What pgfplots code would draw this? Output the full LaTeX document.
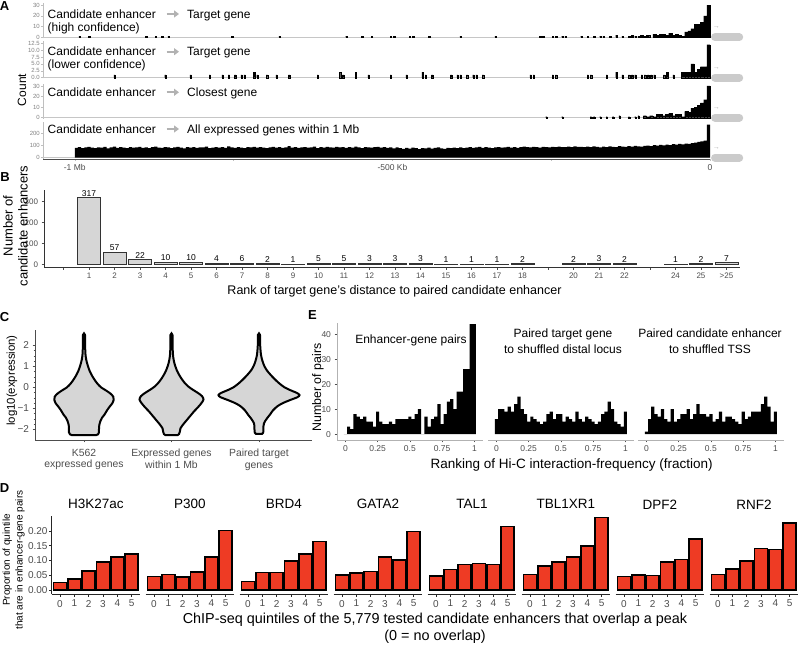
\documentclass[border=0pt]{standalone}
\usepackage{fontspec}
\setmainfont{Liberation Sans}
\usepackage{pgfplots}
\pgfplotsset{compat=1.18}
\usetikzlibrary{arrows.meta}
\definecolor{tk}{HTML}{4D4D4D}
\definecolor{lg}{HTML}{D6D6D6}
\definecolor{pill}{HTML}{CBCBCB}
\definecolor{ared}{HTML}{EE3B24}
\newcommand{\fs}[1]{\fontsize{#1}{#1}\selectfont}
\newcommand{\fss}[2]{\fontsize{#1}{#2}\selectfont}
\pgfplotsset{
  base/.style={scale only axis, anchor=south west, clip=false,
    /pgf/number format/assume math mode=true,
    tick align=outside, major tick length=2.5pt, minor tick length=1.5pt,
    tick style={tk, line width=0.5pt},
    axis line style={tk, line width=0.6pt},
    tick label style={text=tk}},
  Ast/.style={base, width=667pt, xmin=-1050, xmax=0,
    axis y line*=left,
    y axis line style={gray!50, line width=0.6pt},
    tick style={gray!50, line width=0.5pt},
    major tick length=2pt,
    yticklabel style={font=\fs{6}, text=gray, inner sep=1pt}},
  sparse/.style={ybar, bar width=2.2, bar shift=0pt, fill=black, draw=black, line width=0.15pt},
  dense/.style={ybar, bar width=5, bar shift=0pt, fill=black, draw=black, line width=0.15pt},
  Est/.style={base, width=145.5pt, height=117.3pt, xmin=-0.065, xmax=1.063, ymin=-2.3, ymax=44.6,
    xtick={0,0.25,0.5,0.75,1}, xticklabels={0,0.25,0.5,0.75,1},
    tick label style={font=\fs{8.5}}, axis line style={gray!60, line width=0.6pt}},
  Dst/.style={base, width=88.5pt, height=78.06pt, xmin=-0.58, xmax=5.596, ymin=-0.0136, ymax=0.251,
    xtick={0,...,5}, tick label style={font=\fs{10}},
    axis line style={black!85, line width=0.7pt}, tick style={black!85}},
}
\newcommand{\Dfacet}[3]{%
\begin{axis}[Dst, at={(#1pt,51pt)}, #2]
\addplot[ybar, bar width=0.9, bar shift=0pt, fill=ared, draw=black, line width=1.6pt] coordinates {#3};
\end{axis}}
\begin{document}
\begin{tikzpicture}[x=1pt,y=1pt]
\useasboundingbox (0,0) rectangle (800,645);

% ---------------- Panel A ----------------
\begin{axis}[Ast, at={(43pt,606.6pt)}, height=34.9pt, ymin=-1, ymax=31.5, ytick={0,10,20,30}, axis x line=none, xtick=\empty]
\addplot[gray!45, line width=0.8pt] coordinates {(-1050,0) (0,0)};
\addplot[sparse] coordinates {
(-992.5,1)(-977.5,1)(-887.5,1)(-872.5,1)(-862.5,1)(-852.5,1)(-752.5,1)(-677.5,1)(-572.5,1)(-547.5,1)(-532.5,1)(-502.5,1)(-497.5,1)(-472.5,1)(-467.5,1)(-442.5,1)(-392.5,1)(-337.5,1)(-267.5,1)(-262.5,1)(-247.5,1)(-242.5,1)(-232.5,1)(-227.5,1)
(-202.5,1)(-192.5,1)(-182.5,1)(-172.5,1)(-167.5,1)(-157.5,1)(-147.5,2)(-137.5,1)(-127.5,1)(-122.5,2)(-117.5,1)(-112.5,1)};
\addplot[dense] coordinates {
(-107.5,2)(-102.5,1)(-97.5,2)(-87.5,3)(-82.5,2)(-77.5,3)(-72.5,3)(-67.5,2)(-62.5,4)(-57.5,2)(-52.5,3)(-47.5,2)(-42.5,1)
(-37.5,5)(-32.5,6)(-27.5,8)(-22.5,12)(-17.5,12)(-12.5,14)(-7.5,20)(-2.5,30)};
\addplot[pill, line width=8pt, line cap=round] coordinates {(8,0) (46,0)};
\node[text=gray!60, font=\fs{7}] at (axis cs:10,8.7) {→};
\end{axis}

\begin{axis}[Ast, at={(43pt,566.5pt)}, height=37.1pt, ymin=-0.3, ymax=13.2, ytick={0,2.5,5,7.5,10,12.5}, yticklabels={0.0,2.5,5.0,7.5,10.0,12.5}, axis x line=none, xtick=\empty]
\addplot[gray!45, line width=0.8pt] coordinates {(-1050,0) (0,0)};
\addplot[sparse] coordinates {
(-937.5,1)(-857.5,1)(-817.5,1)(-787.5,1)(-767.5,1)(-757.5,1)(-747.5,1)(-737.5,1)(-732.5,1)(-717.5,2)(-712.5,1)(-697.5,1)(-682.5,1)(-662.5,1)(-617.5,1)(-582.5,2)(-577.5,1)(-557.5,2)(-537.5,1)(-502.5,1)(-477.5,1)(-452.5,2)(-447.5,1)(-437.5,1)(-407.5,1)(-397.5,1)(-392.5,1)(-382.5,1)(-372.5,1)(-367.5,1)(-357.5,1)(-282.5,1)(-277.5,1)(-247.5,1)(-242.5,1)(-192.5,1)(-187.5,1)(-162.5,1)(-147.5,2)(-137.5,1)(-127.5,1)(-122.5,1)(-117.5,1)(-107.5,1)(-102.5,1)(-97.5,1)(-92.5,1)(-87.5,1)(-72.5,1)(-67.5,2)(-57.5,1)};
\addplot[dense] coordinates {
(-42.5,2)(-37.5,2)(-32.5,2)(-27.5,5)(-22.5,2)(-17.5,3)(-12.5,4)(-7.5,4)(-2.5,12)};
\addplot[pill, line width=8pt, line cap=round] coordinates {(8,0) (46,0)};
\node[text=gray!60, font=\fs{7}] at (axis cs:10,3.4) {→};
\end{axis}

\begin{axis}[Ast, at={(43pt,526.24pt)}, height=34.35pt, ymin=-1, ymax=31.5, ytick={0,10,20,30}, axis x line=none, xtick=\empty]
\addplot[gray!45, line width=0.8pt] coordinates {(-1050,0) (0,0)};
\addplot[sparse] coordinates {
(-257.5,1)(-232.5,1)(-187.5,1)(-182.5,1)(-172.5,1)(-162.5,1)(-152.5,1)(-142.5,2)(-127.5,1)(-117.5,1)(-112.5,2)};
\addplot[dense] coordinates {
(-102.5,2)(-97.5,1)(-92.5,2)(-87.5,1)(-82.5,3)(-77.5,3)(-72.5,2)(-67.5,3)(-62.5,4)(-57.5,2)(-52.5,3)(-47.5,3)(-42.5,1)(-37.5,6)(-32.5,5)(-27.5,9)(-22.5,10)(-17.5,12)(-12.5,14)(-7.5,17)(-2.5,30)};
\addplot[pill, line width=8pt, line cap=round] coordinates {(8,0) (46,0)};
\node[text=gray!60, font=\fs{7}] at (axis cs:10,8.9) {→};
\end{axis}

\begin{axis}[Ast, at={(43pt,486pt)}, height=37.3pt, ymin=-11, ymax=300, ytick={0,100,200},
  axis x line*=bottom, x axis line style={tk, line width=0.6pt},
  xtick={-1000,-750,-500,-250,0}, xticklabels={-1 Mb,,-500 Kb,,0},
  xticklabel style={font=\fs{8.5}, text=tk}]
\addplot[gray!45, line width=0.8pt] coordinates {(-1050,0) (0,0)};
\addplot[fill=black, draw=none, const plot mark left] table[row sep=\\, x expr=-1000+5*\coordindex, y=v] {
v\\
82\\88\\79\\85\\91\\84\\80\\86\\83\\90\\78\\85\\92\\81\\87\\84\\79\\88\\83\\86\\
90\\82\\85\\79\\87\\93\\84\\81\\88\\85\\80\\86\\91\\83\\78\\87\\84\\89\\82\\86\\
85\\92\\80\\84\\88\\83\\87\\81\\95\\86\\82\\89\\84\\80\\87\\85\\91\\83\\88\\84\\
79\\86\\90\\83\\87\\82\\85\\96\\84\\88\\81\\86\\89\\83\\85\\92\\80\\87\\84\\90\\
86\\83\\91\\85\\88\\82\\87\\84\\93\\86\\80\\89\\85\\83\\88\\91\\84\\87\\82\\86\\
78\\85\\80\\74\\81\\76\\83\\79\\72\\80\\77\\84\\75\\81\\86\\78\\74\\82\\79\\83\\
80\\85\\79\\83\\88\\81\\86\\90\\82\\87\\84\\80\\86\\89\\83\\85\\91\\84\\87\\82\\
87\\92\\88\\85\\90\\87\\84\\91\\89\\86\\90\\88\\93\\87\\89\\92\\88\\94\\90\\91\\
88\\92\\87\\94\\90\\86\\93\\89\\95\\91\\88\\96\\92\\90\\97\\93\\99\\95\\92\\98\\
101\\97\\104\\100\\106\\103\\108\\105\\112\\109\\115\\111\\118\\116\\122\\125\\131\\136\\142\\275\\
275\\
} \closedcycle;
\addplot[pill, line width=8pt, line cap=round] coordinates {(8,0) (46,0)};
\node[text=gray!60, font=\fs{7}] at (axis cs:10,78) {→};
\end{axis}

\node[font=\bfseries\fs{13}] at (4.5,639) {A};
\node[rotate=90, font=\fs{12}] at (22,555) {Count};
\node[anchor=base west, inner sep=0pt, font=\fs{12}] at (47.5,626.7) {Candidate enhancer};
\node[anchor=base west, inner sep=0pt, font=\fs{12}] at (47.5,613.4) {(high confidence)};
\node[anchor=base west, inner sep=0pt, font=\fs{12}] at (187,626.7) {Target gene};
\draw[line width=2pt, gray!60, -{Triangle[length=5pt,width=7pt]}] (166.5,631) -- (179,631);
\node[anchor=base west, inner sep=0pt, font=\fs{12}] at (47.5,589) {Candidate enhancer};
\node[anchor=base west, inner sep=0pt, font=\fs{12}] at (47.5,576.7) {(lower confidence)};
\node[anchor=base west, inner sep=0pt, font=\fs{12}] at (187,589) {Target gene};
\draw[line width=2pt, gray!60, -{Triangle[length=5pt,width=7pt]}] (166.5,593.3) -- (179,593.3);
\node[anchor=base west, inner sep=0pt, font=\fs{12}] at (47.5,548.4) {Candidate enhancer};
\node[anchor=base west, inner sep=0pt, font=\fs{12}] at (187,548.4) {Closest gene};
\draw[line width=2pt, gray!60, -{Triangle[length=5pt,width=7pt]}] (166.5,552.7) -- (179,552.7);
\node[anchor=base west, inner sep=0pt, font=\fs{12}] at (47.5,511.7) {Candidate enhancer};
\node[anchor=base west, inner sep=0pt, font=\fs{12}] at (187,511.7) {All expressed genes within 1 Mb};
\draw[line width=2pt, gray!60, -{Triangle[length=5pt,width=7pt]}] (166.5,516) -- (179,516);

% ---------------- Panel B ----------------
\begin{axis}[base, at={(44pt,377.76pt)}, width=696pt, height=77.5pt, xmin=-0.765, xmax=26.53, ymin=-14, ymax=355,
  axis lines*=left, axis line style={black!80, line width=0.7pt},
  xtick={0,...,26}, xticklabels={,1,2,3,4,5,6,7,8,9,10,11,12,13,14,15,16,17,18,,20,21,22,,24,25,>25},
  ytick={0,100,200,300}, tick label style={font=\fs{8}}]
\addplot[ybar, bar width=0.9, bar shift=0pt, fill=lg, draw=black!80, line width=0.8pt,
  nodes near coords, nodes near coords align={vertical},
  every node near coord/.append style={font=\fs{8.5}, text=black, inner sep=1.2pt}] coordinates {
(1,317)(2,57)(3,22)(4,10)(5,10)(6,4)(7,6)(8,2)(9,1)(10,5)(11,5)(12,3)(13,3)(14,3)(15,1)(16,1)(17,1)(18,2)(20,2)(21,3)(22,2)(24,1)(25,2)(26,7)};
\end{axis}
\node[font=\bfseries\fs{13}] at (5,468) {B};
\node[rotate=90, align=center, font=\fss{13}{15}] at (15.5,419) {Number of\\candidate enhancers};
\node[font=\fs{12.5}] at (394.5,354) {Rank of target gene's distance to paired candidate enhancer};

% ---------------- Panel C ----------------
\begin{axis}[base, at={(35pt,205pt)}, width=277pt, height=110pt, xmin=0.44, xmax=3.606, ymin=-2.51, ymax=2.73,
  axis lines*=left, axis line style={tk, line width=0.6pt},
  xtick={1,2,3}, xticklabels={{K562\\expressed genes},{Expressed genes\\within 1 Mb},{Paired target\\genes}},
  xticklabel style={align=center, font=\fss{10.4}{11.7}, yshift=-3pt},
  ytick={-2,-1,0,1,2}, yticklabels={−2,−1,0,1,2}, yticklabel style={font=\fs{10}},
  minor y tick num=3]
\addplot[fill=lg, draw=black, line width=2pt, smooth, tension=0.5] table[row sep=\\, x expr=1+\thisrow{w}/87.5, y=y] {
y w\\
-2.28 0\\ -2.28 12\\ -2.24 14\\ -2.15 15\\ -2.0 15\\ -1.8 15.3\\ -1.6 16.5\\ -1.45 18\\ -1.3 20.5\\ -1.1 23\\ -0.9 26\\ -0.75 28.5\\ -0.6 29.7\\ -0.45 29.3\\ -0.3 26.5\\ -0.15 22\\ 0 17\\ 0.2 13\\ 0.4 10\\ 0.6 7.5\\ 0.8 5.5\\ 1.0 4\\ 1.2 2.8\\ 1.5 1.6\\ 2.0 1.1\\ 2.5 1.0\\ 2.57 0\\
2.5 -1.0\\ 2.0 -1.1\\ 1.5 -1.6\\ 1.2 -2.8\\ 1.0 -4\\ 0.8 -5.5\\ 0.6 -7.5\\ 0.4 -10\\ 0.2 -13\\ 0 -17\\ -0.15 -22\\ -0.3 -26.5\\ -0.45 -29.3\\ -0.6 -29.7\\ -0.75 -28.5\\ -0.9 -26\\ -1.1 -23\\ -1.3 -20.5\\ -1.45 -18\\ -1.6 -16.5\\ -1.8 -15.3\\ -2.0 -15\\ -2.15 -15\\ -2.24 -14\\ -2.28 -12\\ -2.28 0\\
};
\addplot[fill=lg, draw=black, line width=2pt, smooth, tension=0.5] table[row sep=\\, x expr=2+\thisrow{w}/87.5, y=y] {
y w\\
-2.28 0\\ -2.28 6\\ -2.23 7.5\\ -2.12 8.3\\ -1.95 9\\ -1.75 12\\ -1.55 15.5\\ -1.35 19\\ -1.15 22.5\\ -0.95 26.5\\ -0.75 30\\ -0.58 32\\ -0.42 30.5\\ -0.27 26.5\\ -0.12 21.5\\ 0.05 16.5\\ 0.25 12.5\\ 0.45 9.5\\ 0.65 7\\ 0.85 5\\ 1.05 3.5\\ 1.3 2.2\\ 1.6 1.4\\ 2.0 1.1\\ 2.5 1.0\\ 2.57 0\\
2.5 -1.0\\ 2.0 -1.1\\ 1.6 -1.4\\ 1.3 -2.2\\ 1.05 -3.5\\ 0.85 -5\\ 0.65 -7\\ 0.45 -9.5\\ 0.25 -12.5\\ 0.05 -16.5\\ -0.12 -21.5\\ -0.27 -26.5\\ -0.42 -30.5\\ -0.58 -32\\ -0.75 -30\\ -0.95 -26.5\\ -1.15 -22.5\\ -1.35 -19\\ -1.55 -15.5\\ -1.75 -12\\ -1.95 -9\\ -2.12 -8.3\\ -2.23 -7.5\\ -2.28 -6\\ -2.28 0\\
};
\addplot[fill=lg, draw=black, line width=2pt, smooth, tension=0.5] table[row sep=\\, x expr=3+\thisrow{w}/87.5, y=y] {
y w\\
-2.22 0\\ -2.22 3\\ -2.16 4.2\\ -2.0 4.5\\ -1.85 4.5\\ -1.72 5\\ -1.62 6\\ -1.48 8\\ -1.3 11\\ -1.1 14\\ -0.9 18.5\\ -0.75 24\\ -0.6 31.5\\ -0.47 38.5\\ -0.37 40.5\\ -0.27 38\\ -0.15 32\\ 0 25.5\\ 0.2 20\\ 0.4 15.5\\ 0.6 11.5\\ 0.8 8\\ 1.0 5.5\\ 1.25 3.5\\ 1.55 2\\ 2.0 1.2\\ 2.5 1.0\\ 2.57 0\\
2.5 -1.0\\ 2.0 -1.2\\ 1.55 -2\\ 1.25 -3.5\\ 1.0 -5.5\\ 0.8 -8\\ 0.6 -11.5\\ 0.4 -15.5\\ 0.2 -20\\ 0 -25.5\\ -0.15 -32\\ -0.27 -38\\ -0.37 -40.5\\ -0.47 -38.5\\ -0.6 -31.5\\ -0.75 -24\\ -0.9 -18.5\\ -1.1 -14\\ -1.3 -11\\ -1.48 -8\\ -1.62 -6\\ -1.72 -5\\ -1.85 -4.5\\ -2.0 -4.5\\ -2.16 -4.2\\ -2.22 -3\\ -2.22 0\\
};
\end{axis}
\node[font=\bfseries\fs{13}] at (4.5,327.5) {C};
\node[rotate=90, font=\fs{11.4}] at (12,264.5) {log10(expression)};

% ---------------- Panel E ----------------
\begin{axis}[Est, at={(337pt,205pt)}, axis lines*=left, ytick={0,10,20,30,40}]
\addplot[fill=black, draw=none, const plot mark left] table[row sep=\\, x expr=\coordindex*0.025-0.0125, y=v] {
v\\ 0\\3\\2\\8\\7\\6\\7\\5\\5\\3\\9\\5\\4\\4\\5\\4\\6\\6\\6\\6\\7\\6\\8\\10\\0\\7\\3\\6\\7\\12\\4\\8\\13\\14\\10\\17\\17\\26\\26\\44\\44\\ 44\\
} \closedcycle;
\end{axis}
\begin{axis}[Est, at={(488pt,205pt)}, axis x line*=bottom, axis y line=none, ytick=\empty]
\addplot[fill=black, draw=none, const plot mark left] table[row sep=\\, x expr=\coordindex*0.025-0.0125, y=v] {
v\\ 6\\10\\10\\9\\11\\9\\12\\15\\10\\8\\5\\7\\6\\5\\4\\5\\8\\9\\6\\8\\8\\5\\7\\6\\5\\9\\6\\5\\7\\6\\5\\4\\5\\8\\9\\13\\10\\5\\4\\3\\9\\ 9\\
} \closedcycle;
\end{axis}
\begin{axis}[Est, at={(638pt,205pt)}, axis x line*=bottom, axis y line=none, ytick=\empty]
\addplot[fill=black, draw=none, const plot mark left] table[row sep=\\, x expr=\coordindex*0.025-0.0125, y=v] {
v\\ 1\\6\\11\\8\\7\\10\\6\\5\\10\\5\\6\\8\\8\\10\\6\\8\\12\\8\\8\\7\\8\\5\\6\\9\\5\\7\\7\\6\\5\\4\\9\\6\\7\\9\\9\\9\\12\\15\\11\\5\\9\\ 9\\
} \closedcycle;
\end{axis}
\node[font=\bfseries\fs{13}] at (312.5,330) {E};
\node[rotate=90, font=\fs{12.4}] at (318,257.5) {Number of pairs};
\node[font=\fs{13.5}] at (571.7,180) {Ranking of Hi-C interaction-frequency (fraction)};
\node[font=\fs{12}] at (411,305) {Enhancer-gene pairs};
\node[align=center, font=\fss{12}{15.7}] at (563,303.8) {Paired target gene\\to shuffled distal locus};
\node[align=center, font=\fss{12}{15.7}] at (710,303.8) {Paired candidate enhancer\\to shuffled TSS};

% ---------------- Panel D ----------------
\Dfacet{51.7}{axis lines*=left, ytick={0,0.05,0.1,0.15,0.2}, yticklabels={0.00,0.05,0.10,0.15,0.20}, yticklabel style={inner sep=1.5pt}}{(0,0.026)(1,0.037)(2,0.065)(3,0.094)(4,0.111)(5,0.121)}
\Dfacet{145.7}{axis x line*=bottom, axis y line=none, ytick=\empty}{(0,0.046)(1,0.052)(2,0.045)(3,0.060)(4,0.111)(5,0.201)}
\Dfacet{239.7}{axis x line*=bottom, axis y line=none, ytick=\empty}{(0,0.029)(1,0.059)(2,0.059)(3,0.099)(4,0.123)(5,0.164)}
\Dfacet{333.7}{axis x line*=bottom, axis y line=none, ytick=\empty}{(0,0.050)(1,0.057)(2,0.062)(3,0.111)(4,0.102)(5,0.198)}
\Dfacet{427.7}{axis x line*=bottom, axis y line=none, ytick=\empty}{(0,0.047)(1,0.070)(2,0.087)(3,0.090)(4,0.087)(5,0.215)}
\Dfacet{521.7}{axis x line*=bottom, axis y line=none, ytick=\empty}{(0,0.053)(1,0.081)(2,0.095)(3,0.112)(4,0.150)(5,0.246)}
\Dfacet{615.7}{axis x line*=bottom, axis y line=none, ytick=\empty}{(0,0.046)(1,0.051)(2,0.049)(3,0.095)(4,0.103)(5,0.173)}
\Dfacet{709.7}{axis x line*=bottom, axis y line=none, ytick=\empty}{(0,0.052)(1,0.071)(2,0.098)(3,0.140)(4,0.137)(5,0.228)}
\node[font=\fs{13.5}] at (95.95,140.7) {H3K27ac};
\node[font=\fs{13.5}] at (189.95,140.7) {P300};
\node[font=\fs{13.5}] at (283.95,140.7) {BRD4};
\node[font=\fs{13.5}] at (377.95,140.7) {GATA2};
\node[font=\fs{13.5}] at (471.95,140.7) {TAL1};
\node[font=\fs{13.5}] at (565.95,140.7) {TBL1XR1};
\node[font=\fs{13.5}] at (659.95,140.7) {DPF2};
\node[font=\fs{13.5}] at (753.95,140.7) {RNF2};
\node[font=\bfseries\fs{13}] at (4.5,157) {D};
\node[rotate=90, align=center, font=\fss{10}{12.7}] at (13.7,85) {Proportion of quintile\\that are in enhancer-gene pairs};
\node[align=center, font=\fss{14.4}{17.3}] at (435,16.4) {ChIP-seq quintiles of the 5,779 tested candidate enhancers that overlap a peak\\(0 = no overlap)};
\end{tikzpicture}
\end{document}
